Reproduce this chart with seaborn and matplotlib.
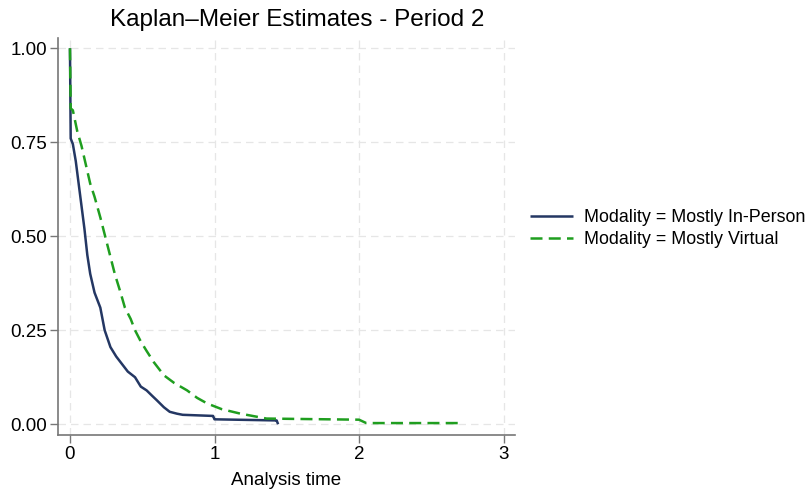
import numpy as np
import pandas as pd
import matplotlib
matplotlib.use('Agg')
import matplotlib.pyplot as plt
import seaborn as sns

# Kaplan-Meier values (time, survival)
inperson_time = [0.0, 0.005, 0.02, 0.04, 0.06, 0.08, 0.10, 0.12, 0.14, 0.17, 0.21, 0.24,
                 0.28, 0.32, 0.36, 0.40, 0.45, 0.49, 0.53, 0.57, 0.60, 0.65, 0.69, 0.74,
                 0.78, 0.99, 1.0, 1.43, 1.44]
inperson_surv = [1.0, 0.76, 0.745, 0.70, 0.64, 0.58, 0.52, 0.45, 0.40, 0.35, 0.31, 0.25,
                 0.205, 0.18, 0.16, 0.14, 0.125, 0.10, 0.09, 0.075, 0.064, 0.045, 0.033, 0.028,
                 0.025, 0.022, 0.013, 0.010, 0.0]

virtual_time = [0.0, 0.005, 0.02, 0.05, 0.08, 0.11, 0.14, 0.17, 0.21, 0.25, 0.28, 0.31, 0.35,
                0.38, 0.42, 0.45, 0.49, 0.53, 0.58, 0.65, 0.72, 0.81, 0.88, 0.95, 1.05,
                1.18, 1.36, 2.0, 2.05, 2.72]
virtual_surv = [1.0, 0.84, 0.835, 0.78, 0.74, 0.69, 0.64, 0.605, 0.55, 0.49, 0.445, 0.40, 0.35,
                0.31, 0.28, 0.25, 0.22, 0.195, 0.165, 0.13, 0.11, 0.09, 0.07, 0.055, 0.04,
                0.028, 0.015, 0.012, 0.003, 0.003]

labels = ['Modality = Mostly In-Person', 'Modality = Mostly Virtual']
colors = ['#243763', '#1f9e1f']

df = pd.concat([
    pd.DataFrame({'time': inperson_time, 'surv': inperson_surv, 'group': labels[0]}),
    pd.DataFrame({'time': virtual_time, 'surv': virtual_surv, 'group': labels[1]}),
])

sns.set_theme(style='white')
plt.rcParams['font.family'] = ['Liberation Sans', 'DejaVu Sans']
plt.rcParams['text.color'] = 'black'
plt.rcParams['axes.labelcolor'] = 'black'

fig = plt.figure(figsize=(8.12, 4.95), dpi=100)
ax = fig.add_axes([0.0714, 0.121, 0.563, 0.802])

sns.lineplot(data=df, x='time', y='surv', hue='group', style='group',
             palette=colors, dashes=[(1, 0), (4.8, 2.5)],
             estimator=None, sort=False, linewidth=1.8, ax=ax)

ax.set_xlim(-0.083, 3.08)
ax.set_ylim(-0.029, 1.027)
ax.set_xticks([0, 1, 2, 3])
ax.set_yticks([0, 0.25, 0.5, 0.75, 1.0])
ax.set_yticklabels(['0.00', '0.25', '0.50', '0.75', '1.00'])
ax.grid(True, color='#e6e6e6', linestyle=(0, (6, 4)), linewidth=0.9)
ax.tick_params(axis='both', labelsize=13.5, length=6, width=1, pad=2,
               direction='out', bottom=True, left=True, colors='#777777', labelcolor='black')
for s in ['top', 'right']:
    ax.spines[s].set_visible(False)
for s in ['left', 'bottom']:
    ax.spines[s].set_color('#777777')
    ax.spines[s].set_linewidth(1.2)

ax.set_xlabel('Analysis time', fontsize=13.5, labelpad=6)
ax.set_ylabel('')
ax.set_title('Kaplan\u2013Meier Estimates - Period 2', fontsize=17.5, pad=9, x=0.524)

ax.legend(loc='center left', bbox_to_anchor=(1.033, 0.52), frameon=False,
          borderpad=0, borderaxespad=0,
          fontsize=12.9, handlelength=2.4, handletextpad=0.6, labelspacing=0.3)

fig.savefig('out.png', dpi=100)
